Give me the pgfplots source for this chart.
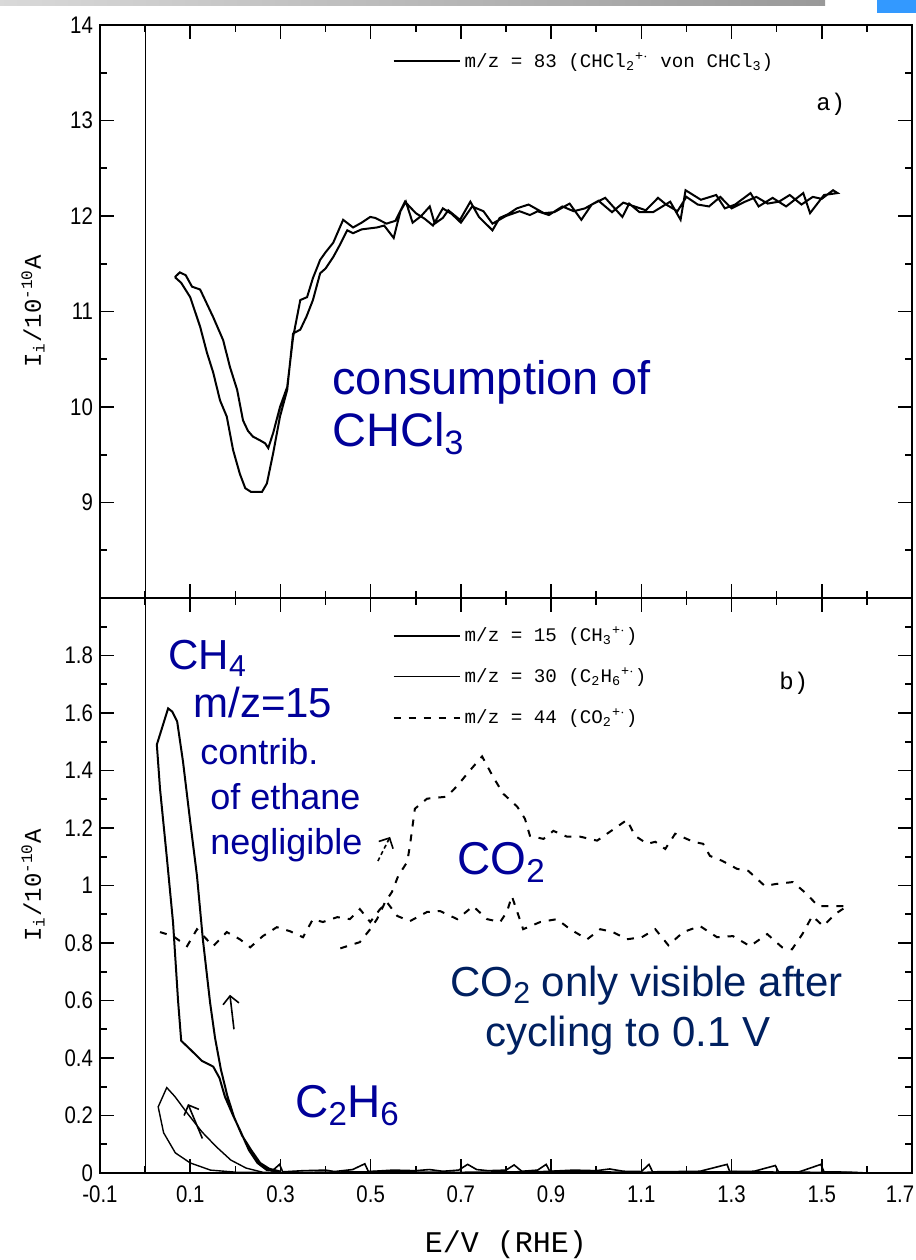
\documentclass[border=0pt]{standalone}
\usepackage{fontspec}
\setmainfont{Liberation Sans}
\newfontfamily\mono{Liberation Mono}
\newfontfamily\tickfont[FakeStretch=0.85]{Liberation Sans}
\usepackage{graphicx}
\usepackage{xcolor}
\usepackage{pgfplots}
\pgfplotsset{compat=1.18}
\usetikzlibrary{arrows.meta}
\definecolor{annblue}{HTML}{000099}
\definecolor{annnavy}{HTML}{002060}
\definecolor{slideblue}{HTML}{3399FF}
\newcommand\sub[1]{\raisebox{-0.3ex}{\scalebox{0.72}{#1}}}

\pgfplotsset{
  panel/.style={
    scale only axis, width=406pt,
    xmin=-0.1, xmax=1.7,
    xtick={-0.1,0.1,0.3,0.5,0.7,0.9,1.1,1.3,1.5,1.7},
    minor xtick={0,0.2,0.4,0.6,0.8,1.0,1.2,1.4,1.6},
    major tick length=7pt, minor tick length=3.5pt,
    every tick/.style={line width=0.8pt, black},
    axis line style={line width=1.1pt},
    tick label style={font=\tickfont\fontsize{12}{14}\selectfont},
    ylabel style={font=\mono\fontsize{12}{14}\selectfont,
      at={(axis description cs:-0.0825,0.5)}, anchor=center},
    legend style={draw=none, fill=none, inner sep=0pt,
      font=\mono\fontsize{9.6}{11}\selectfont, cells={anchor=west}, row sep=7.5pt},
    legend image code/.code={\draw[##1] (0pt,0pt) -- (33pt,0pt);},
  }
}

\begin{document}
\begin{tikzpicture}
\useasboundingbox (0pt,0pt) rectangle (458pt,630pt);
\shade[left color=black!15, right color=black!40] (0pt,627pt) rectangle (412.5pt,630pt);
\fill[slideblue] (438.5pt,623.5pt) rectangle (458pt,630pt);

% a) CHCl3 consumption
\begin{axis}[panel, at={(50pt,331pt)}, anchor=south west, height=286.5pt,
  ymin=8, ymax=14, ytick={9,10,11,12,13,14},
  yticklabels={9,10,11,12,13,14},
  minor ytick={8.5,9.5,10.5,11.5,12.5,13.5},
  xticklabels={},
  ylabel={I\textsubscript{i}/10\textsuperscript{-10}A},
  legend style={at={(axis description cs:0.36,0.96)}, anchor=north west}]
\addplot[black, line width=0.5pt, forget plot] coordinates {(0,8) (0,14)};
\addplot[black, line width=1pt] coordinates {
(0.066,11.36) (0.080,11.30) (0.100,11.15) (0.122,10.84) (0.137,10.57) (0.151,10.36)
(0.166,10.07) (0.181,9.90) (0.195,9.55) (0.210,9.30) (0.222,9.15) (0.235,9.11)
(0.259,9.11) (0.270,9.20) (0.284,9.52) (0.299,9.90) (0.315,10.18) (0.328,10.77)
(0.344,10.81) (0.358,10.95) (0.372,11.12) (0.388,11.40) (0.400,11.45) (0.417,11.57)
(0.432,11.70) (0.448,11.85) (0.461,11.82) (0.480,11.86) (0.514,11.88) (0.530,11.90)
(0.551,11.77) (0.566,12.05) (0.578,12.15) (0.593,11.93) (0.612,12.00) (0.631,12.10)
(0.642,11.92) (0.660,11.98) (0.672,12.06) (0.698,11.96) (0.721,12.15) (0.740,11.99)
(0.770,11.85) (0.786,11.98) (0.805,12.02) (0.824,12.08) (0.850,12.12) (0.884,12.03)
(0.907,12.04) (0.941,12.13) (0.967,11.96) (0.990,12.12) (1.020,12.19) (1.058,11.99)
(1.073,12.13) (1.096,12.04) (1.126,12.04) (1.164,12.15) (1.187,11.96) (1.198,12.27)
(1.232,12.17) (1.266,12.22) (1.285,12.08) (1.308,12.12) (1.342,12.24) (1.360,12.10)
(1.391,12.19) (1.421,12.10) (1.459,12.24) (1.474,12.03) (1.505,12.22) (1.535,12.24)
(1.525,12.27) (1.500,12.18) (1.480,12.20) (1.455,12.12) (1.429,12.22) (1.405,12.15)
(1.380,12.13) (1.355,12.20) (1.330,12.15) (1.300,12.08) (1.275,12.20) (1.250,12.10)
(1.225,12.12) (1.200,12.20) (1.180,12.05) (1.155,12.12) (1.137,12.19) (1.110,12.06)
(1.085,12.10) (1.060,12.14) (1.035,12.04) (1.005,12.16) (0.975,12.08) (0.950,12.05)
(0.925,12.10) (0.895,12.01) (0.870,12.05) (0.853,12.01) (0.830,12.05) (0.800,12.00)
(0.770,11.92) (0.750,12.05) (0.725,12.10) (0.700,11.93) (0.680,12.02) (0.660,12.08)
(0.638,11.90) (0.620,11.97) (0.600,12.03) (0.576,12.15) (0.555,11.95) (0.535,11.92)
(0.510,11.98) (0.499,11.99) (0.480,11.93) (0.461,11.88) (0.439,11.96) (0.417,11.72)
(0.400,11.62) (0.388,11.54) (0.372,11.35) (0.359,11.15) (0.344,11.12) (0.328,10.73)
(0.315,10.21) (0.299,10.00) (0.284,9.73) (0.273,9.57) (0.266,9.62) (0.255,9.65)
(0.239,9.69) (0.228,9.75) (0.217,9.86) (0.204,10.18) (0.188,10.42) (0.173,10.70)
(0.151,10.94) (0.135,11.10) (0.122,11.23) (0.104,11.26) (0.090,11.38) (0.077,11.41)
(0.066,11.36)};
\addlegendentry{m/z = 83 (CHCl\textsubscript{2}\textsuperscript{+$\cdot$} von CHCl\textsubscript{3})}
\end{axis}

% b) products
\begin{axis}[panel, at={(50pt,43.5pt)}, anchor=south west, height=287.5pt,
  ymin=0, ymax=2, ytick={0,0.2,0.4,0.6,0.8,1,1.2,1.4,1.6,1.8},
  yticklabels={0,0.2,0.4,0.6,0.8,1,1.2,1.4,1.6,1.8},
  minor ytick={0.1,0.3,0.5,0.7,0.9,1.1,1.3,1.5,1.7,1.9},
  xticklabels={-0.1,0.1,0.3,0.5,0.7,0.9,1.1,1.3,1.5,1.7\hspace*{12pt}},
  xticklabel style={yshift=-3pt},
  ylabel={I\textsubscript{i}/10\textsuperscript{-10}A},
  xlabel={E/V (RHE)},
  xlabel style={font=\mono\fontsize{15}{17}\selectfont,
    at={(axis description cs:0.5,-0.125)}, anchor=center},
  legend style={at={(axis description cs:0.36,0.958)}, anchor=north west}]
\addplot[black, line width=0.5pt, forget plot] coordinates {(0,0) (0,2)};
% m/z = 15
\addplot[black, line width=1pt] coordinates {
(0.300,0.005) (0.270,0.010) (0.249,0.035) (0.230,0.080) (0.210,0.150) (0.195,0.200)
(0.177,0.265) (0.165,0.330) (0.151,0.370) (0.126,0.390) (0.100,0.430) (0.080,0.460)
(0.073,0.600) (0.062,0.870) (0.048,1.100) (0.033,1.337) (0.026,1.490) (0.051,1.616)
(0.060,1.605) (0.071,1.571) (0.084,1.431) (0.100,1.222) (0.115,1.033) (0.128,0.813)
(0.144,0.593) (0.155,0.470) (0.168,0.360) (0.182,0.270) (0.197,0.195) (0.215,0.130)
(0.235,0.080) (0.255,0.035) (0.275,0.015) (0.300,0.005)};
\addlegendentry{m/z = 15 (CH\textsubscript{3}\textsuperscript{+$\cdot$})}
% m/z = 30
\addplot[black, line width=0.7pt] coordinates {
(0.260,0.003) (0.224,0.017) (0.190,0.045) (0.158,0.091) (0.126,0.143) (0.093,0.209)
(0.066,0.266) (0.048,0.297) (0.029,0.230) (0.041,0.140) (0.067,0.070) (0.100,0.035)
(0.145,0.010) (0.200,0.003)};
\addlegendentry{m/z = 30 (C\textsubscript{2}H\textsubscript{6}\textsuperscript{+$\cdot$})}
% m/z = 44
\addplot[black, line width=1pt, dash pattern=on 3.5pt off 4pt] coordinates {
(0.033,0.838) (0.062,0.824) (0.093,0.789) (0.115,0.848) (0.151,0.789) (0.181,0.838)
(0.210,0.813) (0.233,0.785) (0.261,0.824) (0.292,0.855) (0.321,0.841) (0.350,0.820)
(0.372,0.883) (0.394,0.873) (0.426,0.890) (0.454,0.883) (0.476,0.918) (0.499,0.873)
(0.521,0.918) (0.536,0.942) (0.559,0.894) (0.587,0.876) (0.625,0.908) (0.654,0.911)
(0.692,0.883) (0.727,0.928) (0.758,0.883) (0.787,0.873) (0.802,0.908) (0.813,0.963)
(0.838,0.848) (0.876,0.873) (0.913,0.883) (0.942,0.848) (0.980,0.813) (1.009,0.848)
(1.037,0.838) (1.068,0.813) (1.101,0.820) (1.131,0.848) (1.160,0.792) (1.193,0.838)
(1.230,0.859) (1.268,0.820) (1.303,0.824) (1.341,0.789) (1.379,0.831) (1.412,0.785)
(1.434,0.778) (1.457,0.831) (1.479,0.894) (1.503,0.859) (1.530,0.901) (1.556,0.928)
(1.525,0.928) (1.492,0.928) (1.467,0.970) (1.436,1.012) (1.397,1.005) (1.374,0.998)
(1.337,1.051) (1.312,1.058) (1.279,1.086) (1.252,1.103) (1.237,1.145) (1.215,1.152)
(1.175,1.180) (1.153,1.127) (1.131,1.152) (1.113,1.145) (1.086,1.173) (1.068,1.228)
(1.024,1.180) (1.002,1.156) (0.964,1.170) (0.935,1.170) (0.905,1.190) (0.883,1.162)
(0.853,1.173) (0.842,1.232) (0.825,1.274) (0.794,1.319) (0.771,1.379) (0.747,1.449)
(0.720,1.400) (0.692,1.347) (0.669,1.309) (0.625,1.302) (0.598,1.267) (0.592,1.197)
(0.587,1.138) (0.581,1.082) (0.561,1.033) (0.547,0.977) (0.532,0.942) (0.514,0.883)
(0.499,0.848) (0.476,0.803) (0.448,0.789) (0.430,0.780)};
\addlegendentry{m/z = 44 (CO\textsubscript{2}\textsuperscript{+$\cdot$})}
% baseline noise of m/z = 15 and 30
\addplot[black, line width=0.8pt, forget plot] coordinates {
(0.280,0.005) (0.298,0.030) (0.305,0.004) (0.350,0.008) (0.400,0.010) (0.420,0.005)
(0.460,0.012) (0.487,0.032) (0.495,0.005) (0.550,0.010) (0.600,0.008) (0.630,0.012)
(0.660,0.006) (0.695,0.010) (0.715,0.030) (0.735,0.012) (0.760,0.008) (0.800,0.010)
(0.818,0.028) (0.835,0.006) (0.870,0.010) (0.889,0.030) (0.897,0.006) (0.950,0.010)
(1.000,0.008) (1.030,0.014) (1.060,0.006) (1.100,0.005) (1.117,0.030) (1.125,0.004)
(1.180,0.005) (1.230,0.006) (1.290,0.030) (1.296,0.005) (1.350,0.006) (1.397,0.026)
(1.404,0.004) (1.450,0.004) (1.498,0.030) (1.505,0.004) (1.560,0.003) (1.600,0.000)};
\addplot[black, line width=0.6pt, forget plot] coordinates {
(0.200,0.003) (0.300,0.002) (0.500,0.005) (0.700,0.003) (0.900,0.006) (1.100,0.003)
(1.300,0.005) (1.580,0.002)};
% arrows of the original figure
\draw[-{Straight Barb[length=4pt]}, line width=0.8pt] (axis cs:0.197,0.50) -- (axis cs:0.188,0.62);
\draw[-{Straight Barb[length=4pt]}, line width=0.8pt] (axis cs:0.127,0.12) -- (axis cs:0.095,0.24);
\draw[-{Straight Barb[length=4pt]}, line width=0.8pt, dash pattern=on 2pt off 1.5pt] (axis cs:0.516,1.085) -- (axis cs:0.543,1.169);
\end{axis}

\node[anchor=base west, inner sep=0pt, font=\mono\fontsize{12}{14}\selectfont] at (408pt,574.5pt) {a)};
\node[anchor=base west, inner sep=0pt, font=\mono\fontsize{12}{14}\selectfont] at (389.5pt,285pt) {b)};

% annotations
\begin{scope}[every node/.style={anchor=base west, inner sep=0pt, text=annblue}]
\node[font=\fontsize{23.5}{28}\selectfont] at (166pt,432.5pt) {consumption of};
\node[font=\fontsize{23.5}{28}\selectfont] at (166pt,406.5pt) {CHCl\sub{3}};
\node[font=\fontsize{21}{25}\selectfont] at (84pt,295pt) {CH\sub{4}};
\node[font=\fontsize{21}{25}\selectfont] at (96.5pt,271pt) {m/z=15};
\node[font=\fontsize{18}{22}\selectfont] at (100pt,247.5pt) {contrib.};
\node[font=\fontsize{18}{22}\selectfont] at (105pt,225pt) {of ethane};
\node[font=\fontsize{18}{22}\selectfont] at (105pt,202.5pt) {negligible};
\node[font=\fontsize{23}{28}\selectfont] at (228.5pt,192.5pt) {CO\sub{2}};
\node[font=\fontsize{23}{28}\selectfont] at (147.5pt,71pt) {C\sub{2}H\sub{6}};
\node[text=annnavy, font=\fontsize{21}{25}\selectfont] at (225pt,131.5pt) {CO\sub{2} only visible after};
\node[text=annnavy, font=\fontsize{21}{25}\selectfont] at (242.5pt,106.5pt) {cycling to 0.1 V};
\end{scope}
\end{tikzpicture}
\end{document}
